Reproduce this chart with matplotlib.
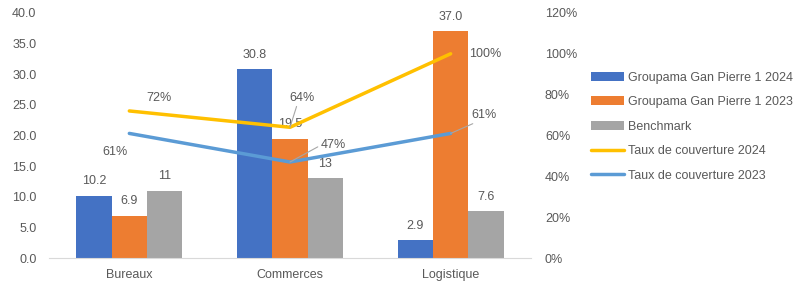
import numpy as np
import matplotlib.pyplot as plt

categories = ["Bureaux", "Commerces", "Logistique"]
gg_2024 = [10.2, 30.8, 2.9]
gg_2023 = [6.9, 19.5, 37.0]
benchmark = [11, 13, 7.6]
taux_2024 = [0.72, 0.64, 1.00]
taux_2023 = [0.61, 0.47, 0.61]

bar_labels_2024 = ["10.2", "30.8", "2.9"]
bar_labels_2023 = ["6.9", "19.5", "37.0"]
bar_labels_bench = ["11", "13", "7.6"]

txt = "#595959"
plt.rcParams["font.family"] = ["Liberation Sans", "DejaVu Sans"]
plt.rcParams["font.size"] = 9

fig = plt.figure(figsize=(7.98, 2.87), dpi=100)
ax = fig.add_axes([0.0614, 0.101, 0.604, 0.854])
ax2 = ax.twinx()

x = np.arange(len(categories))
w = 0.22
b1 = ax.bar(x - w, gg_2024, w, color="#4472c4", label="Groupama Gan Pierre 1 2024")
b2 = ax.bar(x, gg_2023, w, color="#ed7d31", label="Groupama Gan Pierre 1 2023")
b3 = ax.bar(x + w, benchmark, w, color="#a5a5a5", label="Benchmark")

for bars, labs in [(b1, bar_labels_2024), (b2, bar_labels_2023), (b3, bar_labels_bench)]:
    for b, lab in zip(bars, labs):
        ax.annotate(lab, (b.get_x() + b.get_width() / 2, b.get_height()),
                    xytext=(0, 6), textcoords="offset points",
                    ha="center", va="bottom", color=txt, fontsize=9)

l1, = ax2.plot(x, taux_2024, color="#ffc000", lw=2.5, label="Taux de couverture 2024",
               solid_capstyle="round")
l2, = ax2.plot(x, taux_2023, color="#5b9bd5", lw=2.5, label="Taux de couverture 2023",
               solid_capstyle="round")

# line labels
lead = dict(arrowstyle="-", color="#a6a6a6", lw=0.8, shrinkA=0, shrinkB=0)
ax2.annotate("72%", (x[0], taux_2024[0]), xytext=(12, 5), textcoords="offset points",
             ha="left", va="bottom", color=txt)
ax2.annotate("61%", (x[0], taux_2023[0]), xytext=(-10, -9), textcoords="offset points",
             ha="center", va="top", color=txt)
ax2.annotate("64%", (x[1], taux_2024[1]), xytext=(9, 17), textcoords="offset points",
             ha="center", va="bottom", color=txt,
             arrowprops=dict(relpos=(0.3, 0.0), **lead))
ax2.annotate("47%", (x[1], taux_2023[1]), xytext=(22, 12), textcoords="offset points",
             ha="left", va="center", color=txt,
             arrowprops=dict(relpos=(0.0, 0.5), **lead))
ax2.annotate("100%", (x[2], taux_2024[2]), xytext=(13, 0), textcoords="offset points",
             ha="left", va="center", color=txt)
ax2.annotate("61%", (x[2], taux_2023[2]), xytext=(15, 9), textcoords="offset points",
             ha="left", va="bottom", color=txt,
             arrowprops=dict(relpos=(0.3, 0.0), **lead))

ax.set_xlim(-0.5, 2.5)
ax.set_ylim(0, 40)
ax.set_yticks(np.arange(0, 41, 5))
ax.set_yticklabels([f"{v:.1f}" for v in np.arange(0, 41, 5)])
ax2.set_ylim(0, 1.2)
ax2.set_yticks(np.arange(0, 1.21, 0.2))
ax2.set_yticklabels([f"{int(round(v * 100))}%" for v in np.arange(0, 1.21, 0.2)])
ax.set_xticks(x)
ax.set_xticklabels(categories)

for a in (ax, ax2):
    for s in ("top", "left", "right"):
        a.spines[s].set_visible(False)
    a.spines["bottom"].set_color("#d9d9d9")
    a.tick_params(length=0, colors=txt, labelsize=9)
ax2.spines["bottom"].set_visible(False)
ax.tick_params(axis="x", pad=8)
ax.tick_params(axis="y", pad=9)
ax2.tick_params(axis="y", pad=10)

handles = [b1, b2, b3, l1, l2]
leg = fig.legend(handles, [h.get_label() for h in handles], loc="upper left",
                 bbox_to_anchor=(0.727, 0.79), frameon=False, fontsize=9,
                 handlelength=2.6, handleheight=0.7, handletextpad=0.3, labelspacing=1.0)
for t in leg.get_texts():
    t.set_color(txt)

fig.savefig("out.png", dpi=100)
